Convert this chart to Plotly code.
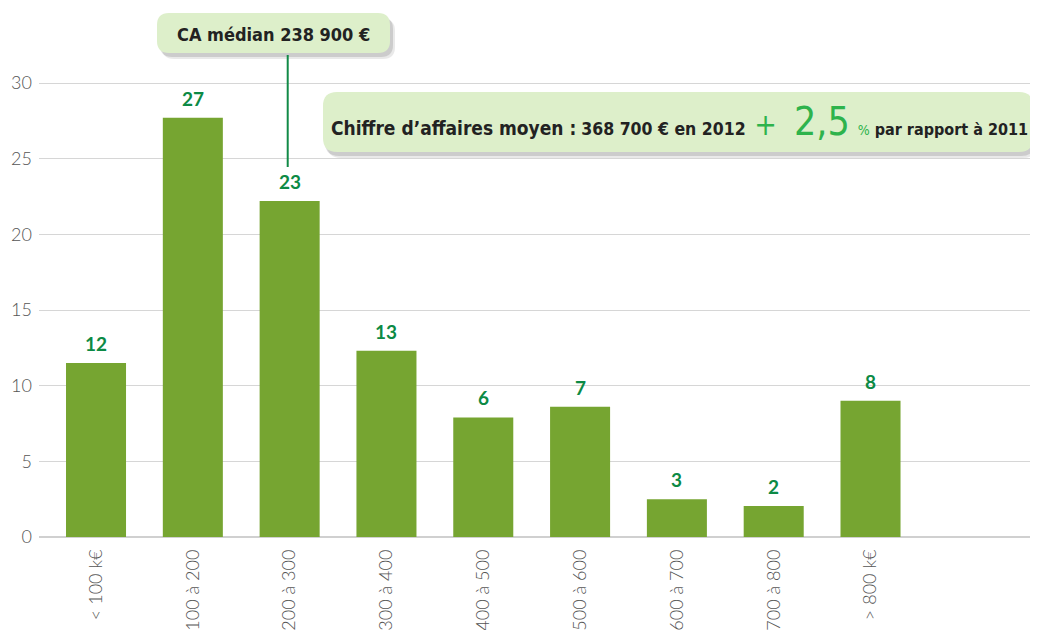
import plotly.graph_objects as go

categories = ["< 100 k€", "100 à 200", "200 à 300", "300 à 400", "400 à 500",
              "500 à 600", "600 à 700", "700 à 800", "> 800 k€"]
bar_values = [11.5, 27.7, 22.2, 12.3, 7.9, 8.6, 2.5, 2.05, 9.0]
value_labels = ["12", "27", "23", "13", "6", "7", "3", "2", "8"]
y_ticks = [0, 5, 10, 15, 20, 25, 30]

# page has an 8px body margin; figure is sized so it ends exactly at 1038x630
OFF = 8
W, H = 1038 - OFF, 630 - OFF
PLOT_L, PLOT_R, PLOT_T, PLOT_B = 39, 1038, OFF, 537   # page pixels
ML, MR, MT, MB = PLOT_L - OFF, 1038 - PLOT_R, PLOT_T - OFF, 630 - PLOT_B
PW, PH = PLOT_R - PLOT_L, PLOT_B - PLOT_T
Y30_PX = 83
ppu = (PLOT_B - Y30_PX) / 30.0
ymax = (PLOT_B - PLOT_T) / ppu

def px(x):
    return (x - PLOT_L) / PW

def py(y):
    return (PLOT_B - y) / PH

def rrect(x0, y0, x1, y1, r):
    def P(x, y):
        return f"{px(x):.5f},{py(y):.5f}"
    p = f"M {P(x0 + r, y0)} L {P(x1 - r, y0)} Q {P(x1, y0)} {P(x1, y0 + r)} "
    p += f"L {P(x1, y1 - r)} Q {P(x1, y1)} {P(x1 - r, y1)} "
    p += f"L {P(x0 + r, y1)} Q {P(x0, y1)} {P(x0, y1 - r)} "
    p += f"L {P(x0, y0 + r)} Q {P(x0, y0)} {P(x0 + r, y0)} Z"
    return p

xs = list(range(len(categories)))

fig = go.Figure()
fig.add_trace(go.Bar(
    x=xs, y=bar_values, width=0.62,
    marker=dict(color="#76a531", line=dict(width=0)),
    hoverinfo="skip",
))

annotations = []
for x, v, t in zip(xs, bar_values, value_labels):
    annotations.append(dict(
        x=x, y=v, xref="x", yref="y", text=f"<b>{t}</b>", showarrow=False,
        yanchor="bottom", yshift=6,
        font=dict(family="Lato, Roboto, sans-serif", size=19, color="#0c8a45"),
    ))

shapes = []
# Box 1 (median)
b1 = (157, 13, 390, 53)
for off, op in [((5, 6), 0.16), ((3, 4), 0.25)]:
    shapes.append(dict(type="path", xref="paper", yref="paper",
                       path=rrect(b1[0] + off[0], b1[1] + off[1], b1[2] + off[0], b1[3] + off[1], 12),
                       fillcolor="rgba(120,120,120,%.2f)" % op, line=dict(width=0), layer="above"))
shapes.append(dict(type="path", xref="paper", yref="paper",
                   path=rrect(*b1, 12), fillcolor="#ddefca", line=dict(width=0), layer="above"))
# connector line
shapes.append(dict(type="line", xref="x", yref="paper", x0=2 - 0.02, x1=2 - 0.02,
                   y0=py(55), y1=py(167), line=dict(color="#118a47", width=2), layer="above"))
# Box 2 (mean)
b2 = (323, 92, 1033, 152)
for off, op in [((4, 6), 0.16), ((2, 4), 0.25)]:
    shapes.append(dict(type="path", xref="paper", yref="paper",
                       path=rrect(b2[0] + off[0], b2[1] + off[1], b2[2] + off[0], b2[3] + off[1], 14),
                       fillcolor="rgba(120,120,120,%.2f)" % op, line=dict(width=0), layer="above"))
shapes.append(dict(type="path", xref="paper", yref="paper",
                   path=rrect(*b2, 14), fillcolor="#ddefca", line=dict(width=0), layer="above"))

cond = "Liberation Sans Narrow, DejaVu Sans Condensed, Roboto, sans-serif"
annotations.append(dict(
    x=px((b1[0] + b1[2]) / 2), y=py(34), xref="paper", yref="paper",
    text="<b>CA médian 238 900 €</b>", showarrow=False, xanchor="center", yanchor="middle",
    font=dict(family=cond, size=18, color="#222222"),
))
annotations.append(dict(
    x=px(329), y=py(122), xref="paper", yref="paper", xanchor="left", yanchor="middle",
    text=("<b><span style='font-size:19px'>Chiffre d’affaires moyen :</span> "
          "<span style='font-size:17.5px'>368 700 € en 2012</span></b>"
          "<span style='font-size:30px;color:#2eb34c'>&nbsp;+&nbsp;&nbsp;</span>"
          "<span style='font-size:39px;color:#2eb34c'>2,5</span>"
          "<span style='font-size:14px;color:#2eb34c'>&nbsp;&nbsp;%</span>"
          "<b><span style='font-size:16px'>&nbsp;par rapport à 2011</span></b>"),
    showarrow=False,
    font=dict(family=cond, size=16, color="#222222"),
))

fig.update_layout(
    width=W, height=H,
    margin=dict(l=ML, r=MR, t=MT, b=MB, pad=0),
    paper_bgcolor="white", plot_bgcolor="white",
    showlegend=False,
    annotations=annotations,
    shapes=shapes,
    xaxis=dict(
        range=[-0.589, 9.73], tickvals=xs, ticktext=categories,
        tickangle=-90, showgrid=False, zeroline=False, showline=False,
        ticks="", ticklabelstandoff=8, automargin=False,
        tickfont=dict(family="Lato, Roboto, sans-serif", size=18, color="#555555", weight=300),
    ),
    yaxis=dict(
        range=[0, ymax], tickvals=y_ticks, showgrid=True, gridcolor="#d6d6d6", gridwidth=1,
        zeroline=True, zerolinecolor="#d0d0d0", zerolinewidth=2, showline=False,
        ticks="", automargin=False, ticklabelstandoff=6,
        tickfont=dict(family="Lato, Roboto, sans-serif", size=18, color="#555555", weight=300),
    ),
)

fig.write_html("out.html")
